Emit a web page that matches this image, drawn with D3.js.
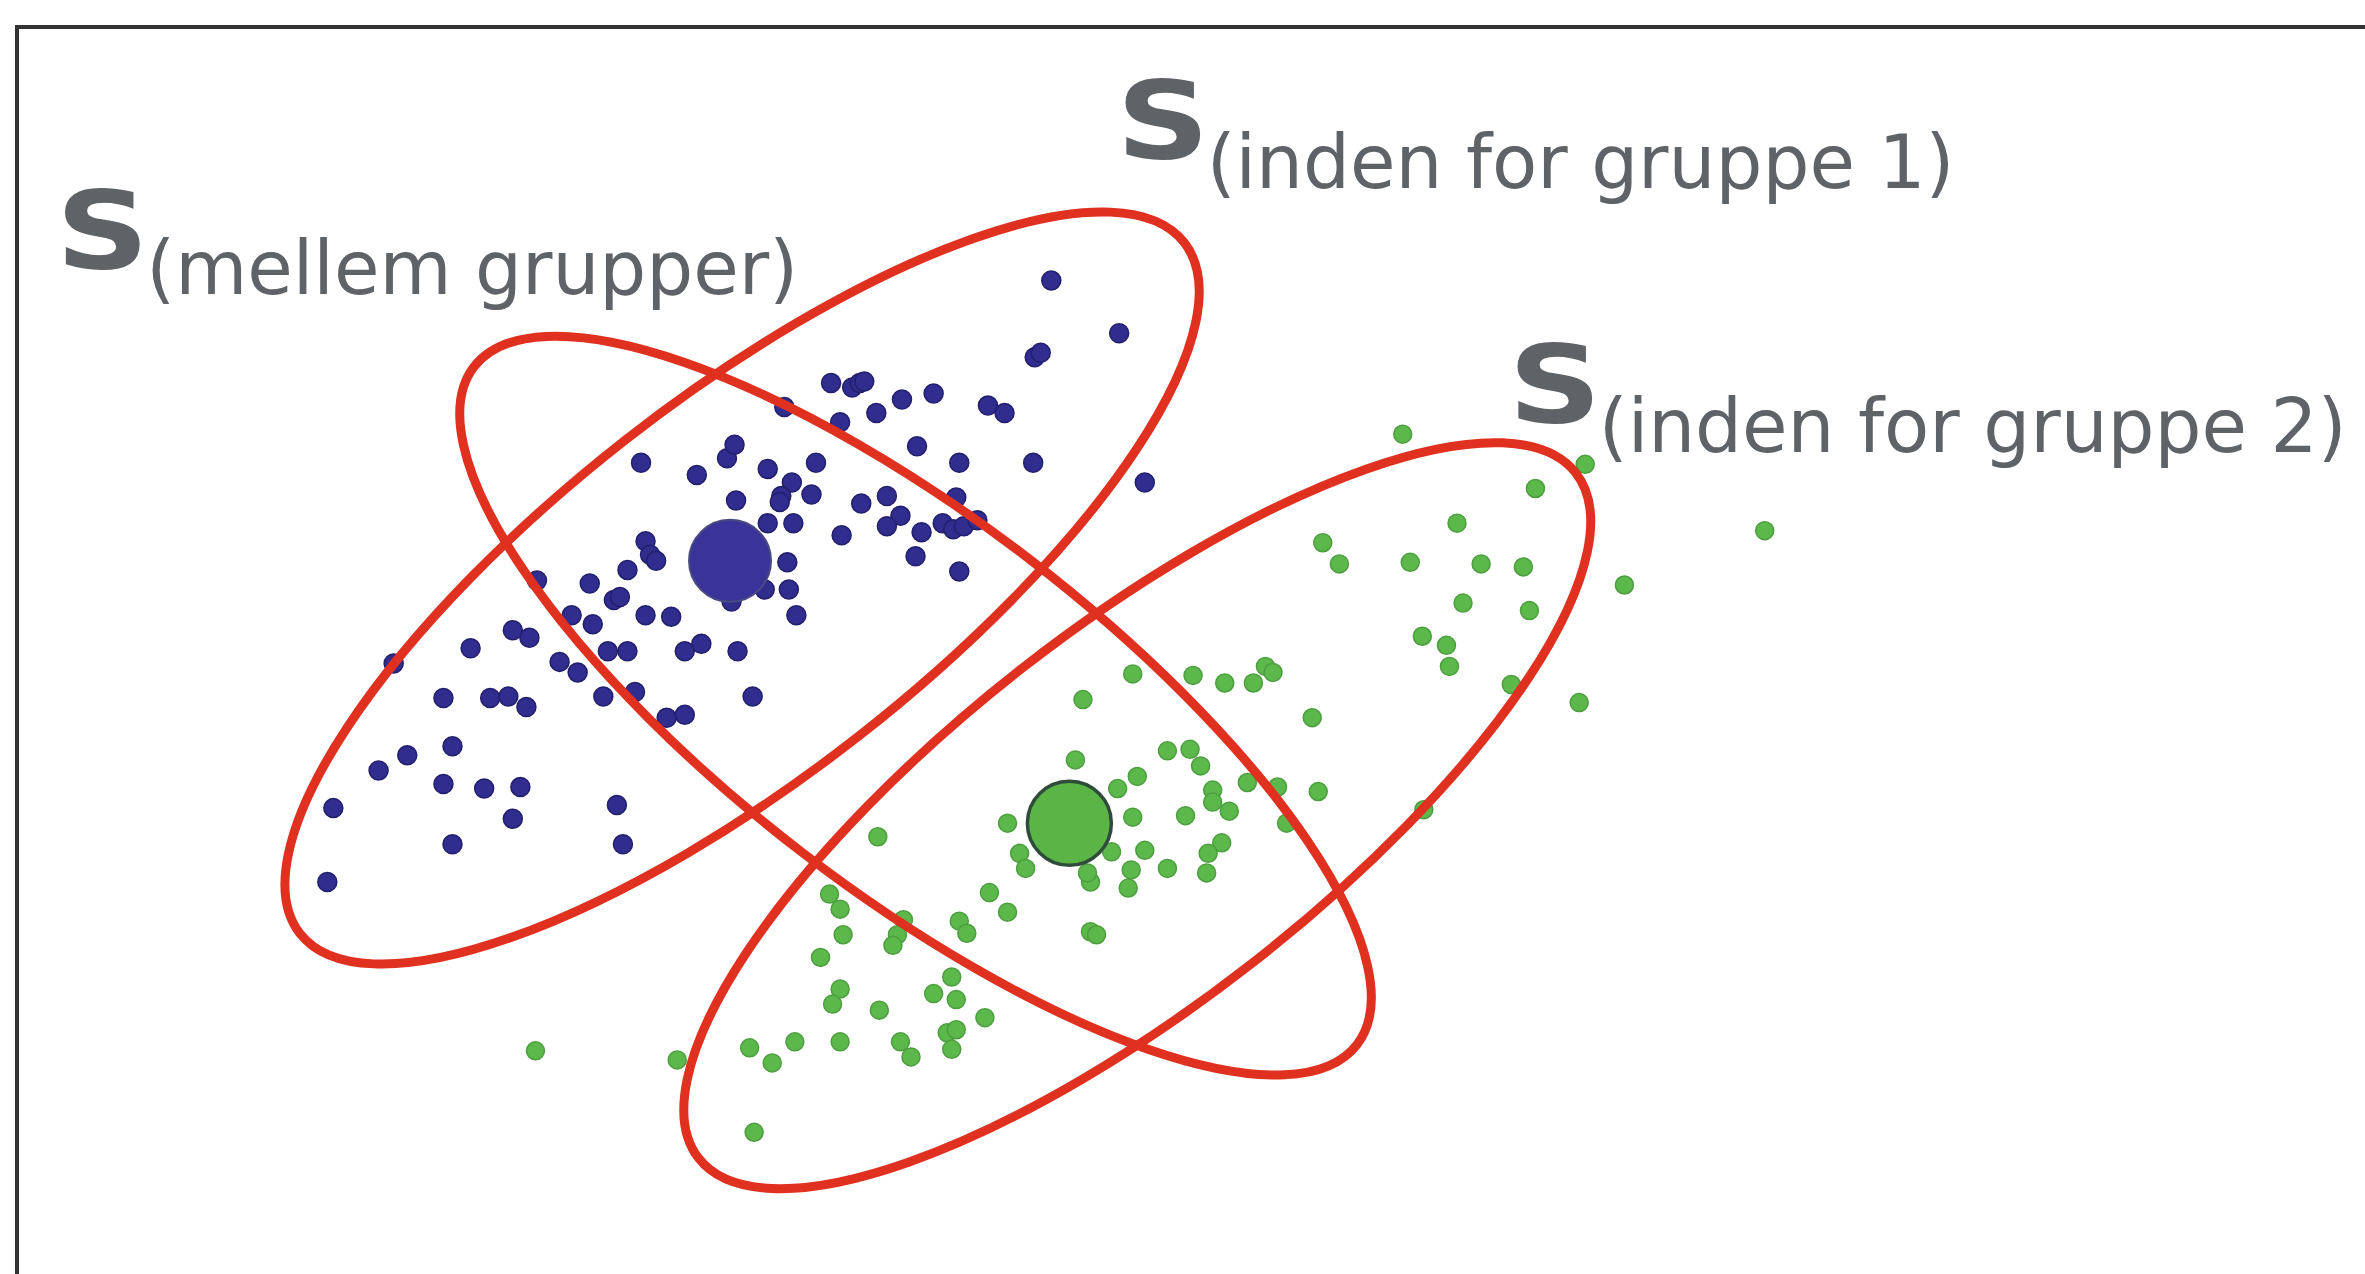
<!DOCTYPE html>
<html>
<head>
<meta charset="utf-8">
<script src="https://cdn.jsdelivr.net/npm/d3@7"></script>
<style>
  html, body { margin: 0; padding: 0; background: #ffffff; }
  svg { display: block; }
</style>
</head>
<body>
<script>
// ---------------- DATA (units: reference picture coordinates, 1568 x 845) ----------------
const group1Points = [
  [697,186],[742,221],[686,237],[690,234],[551,254],[565,257],[570,254],[573,253],[557,280],[581,274],
  [598,265],[619,261],[655,269],[666,274],[520,270],[608,296],[636,307],[685,307],[759,320],[541,307],
  [525,320],[518,329],[538,328],[526,347],[571,334],[588,329],[597,342],[588,349],[558,355],[611,353],
  [625,347],[632,351],[639,349],[648,345],[634,330],[607,369],[636,379],[522,373],[523,391],[528,408],
  [425,307],[462,315],[482,304],[487,295],[509,311],[488,332],[517,333],[509,347],[507,391],[485,399],
  [428,359],[431,368],[435,372],[416,378],[391,387],[407,398],[411,396],[428,408],[445,409],[379,408],
  [393,414],[356,385],[403,432],[416,432],[454,432],[465,427],[489,432],[371,439],[383,446],[400,462],
  [421,459],[442,476],[454,474],[499,462],[340,418],[351,423],
  [312,430],[261,440],[294,463],[325,463],[337,462],[349,469],[300,495],[270,501],[251,511],[294,520],
  [321,523],[345,522],[340,543],[409,534],[413,560],[300,560],[221,536],[217,585]
];

const group2Points = [
  [930,288],[1051,308],[1018,324],[966,347],[877,360],[888,374],[935,373],[982,374],[1010,376],[1077,388],
  [1170,352],[970,400],[1014,405],[943,422],[959,428],[961,442],[1002,454],[1047,466],[870,476],[944,537],
  [751,447],[791,448],[812,453],[831,453],[839,442],[844,446],[718,464],[713,504],[774,498],[789,497],
  [796,508],[754,515],[741,523],[827,519],[847,522],[874,525],[804,524],[804,532],[815,538],[786,541],
  [751,542],[853,546],[668,546],[676,566],[680,576],[737,565],[759,564],[810,559],[801,566],[800,579],
  [774,576],[750,577],[748,589],[723,585],[721,579],[582,555],[656,592],[668,605],[550,593],[557,603],
  [599,610],[636,611],[641,619],[723,618],[727,620],[559,620],[595,620],
  [544,635],[592,627],[557,656],[552,666],[583,670],[619,659],[631,648],[634,663],[653,675],[628,685],
  [634,683],[631,696],[597,691],[604,701],[557,691],[527,691],[497,695],[512,705],[449,703],[500,751],
  [355,697]
];

const centroidGroups = ["gruppe 1", "gruppe 2"];
const centroidX = [484, 709];
const centroidY = [372, 546];

// covariance ellipses: centre, semi-axes, orientation (degrees)
const ellipseNames  = ["mellem grupper", "inden for gruppe 1", "inden for gruppe 2"];
const ellipseCX     = [607, 492, 754];
const ellipseCY     = [468, 390, 541];
const ellipseA      = [369, 372, 369];
const ellipseB      = [123, 125, 124];
const ellipseAngle  = [37.5, -38, -38];

const labelMain = ["S", "S", "S"];
const labelSub  = ["(mellem grupper)", "(inden for gruppe 1)", "(inden for gruppe 2)"];

// ---------------- LAYOUT / STYLE ----------------
const W = 2365, H = 1274;
const x = d3.scaleLinear().domain([0, 1568]).range([0, W]);
const y = d3.scaleLinear().domain([0, 845]).range([0, H]);
const len = v => x(v) - x(0);

const labelPos = [
  {sx: 37,  sy: 178, tx: 97,  ty: 195},
  {sx: 740, sy: 105, tx: 800, ty: 125},
  {sx: 1000, sy: 280, tx: 1060, ty: 300}
];

const svg = d3.select("body").append("svg")
  .attr("width", W).attr("height", H)
  .attr("viewBox", `0 0 ${W} ${H}`);

svg.append("rect").attr("x", 0).attr("y", 0).attr("width", W).attr("height", H).attr("fill", "#ffffff");

// frame (open to the right and bottom)
svg.append("path")
  .attr("d", `M${W + 10},27 L17,27 L17,${H + 10}`)
  .attr("fill", "none")
  .attr("stroke", "#333333")
  .attr("stroke-width", 4);

// small points
svg.append("g").selectAll("circle").data(group1Points).join("circle")
  .attr("cx", d => x(d[0])).attr("cy", d => y(d[1]))
  .attr("r", 9.5)
  .attr("fill", "#302d8f")
  .attr("stroke", "#221f6c")
  .attr("stroke-width", 1.5);

svg.append("g").selectAll("circle").data(group2Points).join("circle")
  .attr("cx", d => x(d[0])).attr("cy", d => y(d[1]))
  .attr("r", 9)
  .attr("fill", "#5cb84b")
  .attr("stroke", "#4c9e3e")
  .attr("stroke-width", 1.5);

// ellipses
const ellData = ellipseNames.map((n, i) => ({
  name: n, cx: ellipseCX[i], cy: ellipseCY[i], a: ellipseA[i], b: ellipseB[i], angle: ellipseAngle[i]
}));
svg.append("g").selectAll("ellipse").data(ellData).join("ellipse")
  .attr("cx", d => x(d.cx)).attr("cy", d => y(d.cy))
  .attr("rx", d => len(d.a)).attr("ry", d => len(d.b))
  .attr("transform", d => `rotate(${d.angle},${x(d.cx)},${y(d.cy)})`)
  .attr("fill", "none")
  .attr("stroke", "#e0301f")
  .attr("stroke-width", 9);

// centroids
const centData = centroidGroups.map((g, i) => ({g, cx: centroidX[i], cy: centroidY[i]}));
svg.append("g").selectAll("circle").data(centData).join("circle")
  .attr("cx", d => x(d.cx)).attr("cy", d => y(d.cy))
  .attr("r", d => d.g === "gruppe 1" ? 41 : 42)
  .attr("fill", d => d.g === "gruppe 1" ? "#3a3399" : "#5ab446")
  .attr("stroke", d => d.g === "gruppe 1" ? "#4a4a82" : "#2f4c3a")
  .attr("stroke-width", d => d.g === "gruppe 1" ? 2 : 3.5);

// labels
const lg = svg.append("g");
labelMain.forEach((m, i) => {
  const p = labelPos[i];
  lg.append("text")
    .attr("transform", `translate(${x(p.sx)},${y(p.sy)}) scale(1.2,1)`)
    .attr("font-family", "DejaVu Sans, Verdana, sans-serif")
    .attr("font-weight", "bold")
    .attr("font-size", 108)
    .attr("fill", "#5f6266")
    .text(m);
  lg.append("text")
    .attr("x", x(p.tx)).attr("y", y(p.ty))
    .attr("font-family", "DejaVu Sans, Verdana, sans-serif")
    .attr("font-size", 74)
    .attr("fill", "#5f6266")
    .text(labelSub[i]);
});
</script>
</body>
</html>
